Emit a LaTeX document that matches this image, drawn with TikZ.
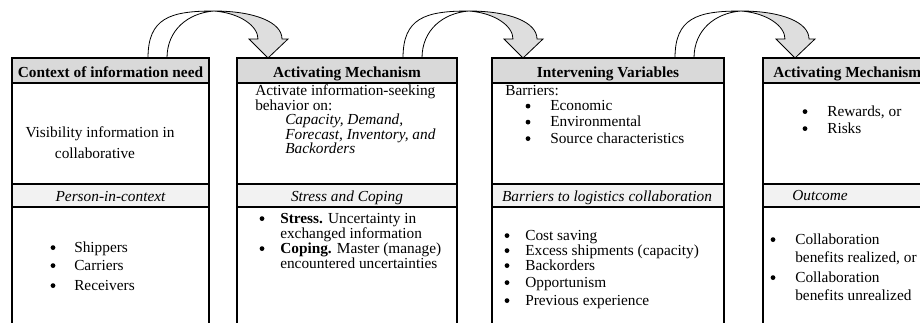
\documentclass[tikz,border=0pt]{standalone}
\usepackage{fontspec}
\setmainfont{Liberation Serif}
\definecolor{hdrgray}{RGB}{217,217,217}
\definecolor{subgray}{RGB}{242,242,242}
\definecolor{arrgray}{RGB}{222,222,222}
\newcommand\myfs{\fontsize{11.5}{13.5}\selectfont}
\begin{document}
\begin{tikzpicture}[x=0.75pt,y=-0.75pt,font=\myfs,
  boxline/.style={draw=black,line width=1.1pt,fill=white},
  hdr/.style={fill=hdrgray,draw=black,line width=1.1pt},
  subhdr/.style={fill=subgray,draw=black,line width=0.8pt},
  arrowline/.style={draw=black,line width=0.6pt},
  txt/.style={anchor=base west,inner sep=0pt},
  ctxt/.style={anchor=base,inner sep=0pt},
  bul/.style={circle,fill=black,inner sep=0pt,minimum size=3.6pt,yshift=3.3pt},
  bold/.style={font=\myfs\bfseries},
  ital/.style={font=\myfs\itshape},
  carrow/.pic={
    \draw[arrowline,fill=white] (0,0) .. controls (0,-40) and (22,-47) .. (66,-47)
      .. controls (40,-45) and (19,-28) .. (19,0) -- cycle;
    \draw[arrowline,fill=arrgray] (66,-47) .. controls (106,-47) and (134,-36) .. (134,-19)
      -- (140,-19) -- (120,0) -- (101,-19) -- (110,-19)
      .. controls (110,-32) and (92,-45) .. (66,-47) -- cycle;
  }]
\useasboundingbox (0,0) rectangle (920,322);
\clip (0,0) rectangle (920,322);
\fill[white] (0,0) rectangle (920,322);

% curved block arrows
\pic (a1) at (148,58) {carrow};
\pic (a2) at (403,58) {carrow};
\pic (a3) at (675,58) {carrow};

% Box 1
\draw[boxline] (12,58) rectangle (209,340);
\draw[hdr] (12,58) rectangle (209,83);
\draw[subhdr] (12,184) rectangle (209,207);
\node[ctxt,bold] (h1) at (110.5,77) {Context of information need};
\node[ctxt] (b1a) at (100,137) {Visibility information in};
\node[ctxt] (b1b) at (95,158) {collaborative};
\node[ctxt,ital] (s1) at (110.5,201) {Person-in-context};
\node[bul] (p1a) at (53,252) {};
\node[txt] (t1a) at (74,252) {Shippers};
\node[bul] (p1b) at (53,270) {};
\node[txt] (t1b) at (74,270) {Carriers};
\node[bul] (p1c) at (53,290) {};
\node[txt] (t1c) at (74,290) {Receivers};

% Box 2
\draw[boxline] (237,58) rectangle (457,340);
\draw[hdr] (237,58) rectangle (457,83);
\draw[subhdr] (237,184) rectangle (457,207);
\node[ctxt,bold] (h2) at (347,77) {Activating Mechanism};
\node[txt] (b2a) at (255,95.5) {Activate information-seeking};
\node[txt] (b2b) at (255,110) {behavior on:};
\node[txt,ital] (b2c) at (285,124.5) {Capacity, Demand,};
\node[txt,ital] (b2d) at (285,139) {Forecast, Inventory, and};
\node[txt,ital] (b2e) at (285,153.5) {Backorders};
\node[ctxt,ital] (s2) at (347,201) {Stress and Coping};
\node[bul] (p2a) at (262,223) {};
\node[txt] (t2a) at (280,223) {\textbf{Stress.} Uncertainty in};
\node[txt] (t2b) at (280,238) {exchanged information};
\node[bul] (p2c) at (262,253) {};
\node[txt] (t2c) at (280,253) {\textbf{Coping.} Master (manage)};
\node[txt] (t2d) at (280,268) {encountered uncertainties};

% Box 3
\draw[boxline] (492,58) rectangle (724,340);
\draw[hdr] (492,58) rectangle (724,83);
\draw[subhdr] (492,184) rectangle (724,207);
\node[ctxt,bold] (h3) at (608,77) {Intervening Variables};
\node[txt] (b3a) at (505,95.5) {Barriers:};
\node[bul] (p3a) at (528,110.5) {};
\node[txt] (t3a) at (550,110.5) {Economic};
\node[bul] (p3b) at (528,126.5) {};
\node[txt] (t3b) at (550,126.5) {Environmental};
\node[bul] (p3c) at (528,143) {};
\node[txt] (t3c) at (550,143) {Source characteristics};
\node[ctxt,ital] (s3) at (607,201) {Barriers to logistics collaboration};
\node[bul] (p3d) at (507,240) {};
\node[txt] (t3d) at (525,240) {Cost saving};
\node[bul] (p3e) at (507,255) {};
\node[txt] (t3e) at (525,255) {Excess shipments (capacity)};
\node[bul] (p3f) at (507,270) {};
\node[txt] (t3f) at (525,270) {Backorders};
\node[bul] (p3g) at (507,287) {};
\node[txt] (t3g) at (525,287) {Opportunism};
\node[bul] (p3h) at (507,305) {};
\node[txt] (t3h) at (525,305) {Previous experience};

% Box 4
\draw[boxline] (763,58) rectangle (940,340);
\draw[hdr] (763,58) rectangle (940,83);
\draw[subhdr] (763,184) rectangle (940,207);
\node[txt,bold] (h4) at (773,77) {Activating Mechanism};
\node[bul] (p4a) at (805,116) {};
\node[txt] (t4a) at (827,116) {Rewards, or};
\node[bul] (p4b) at (805,133) {};
\node[txt] (t4b) at (827,133) {Risks};
\node[ctxt,ital] (s4) at (820,200) {Outcome};
\node[bul] (p4c) at (773,244) {};
\node[txt] (t4c) at (795,244) {Collaboration};
\node[txt] (t4d) at (795,262) {benefits realized, or};
\node[bul] (p4e) at (773,282) {};
\node[txt] (t4e) at (795,282) {Collaboration};
\node[txt] (t4f) at (795,300) {benefits unrealized};
\end{tikzpicture}
\end{document}
